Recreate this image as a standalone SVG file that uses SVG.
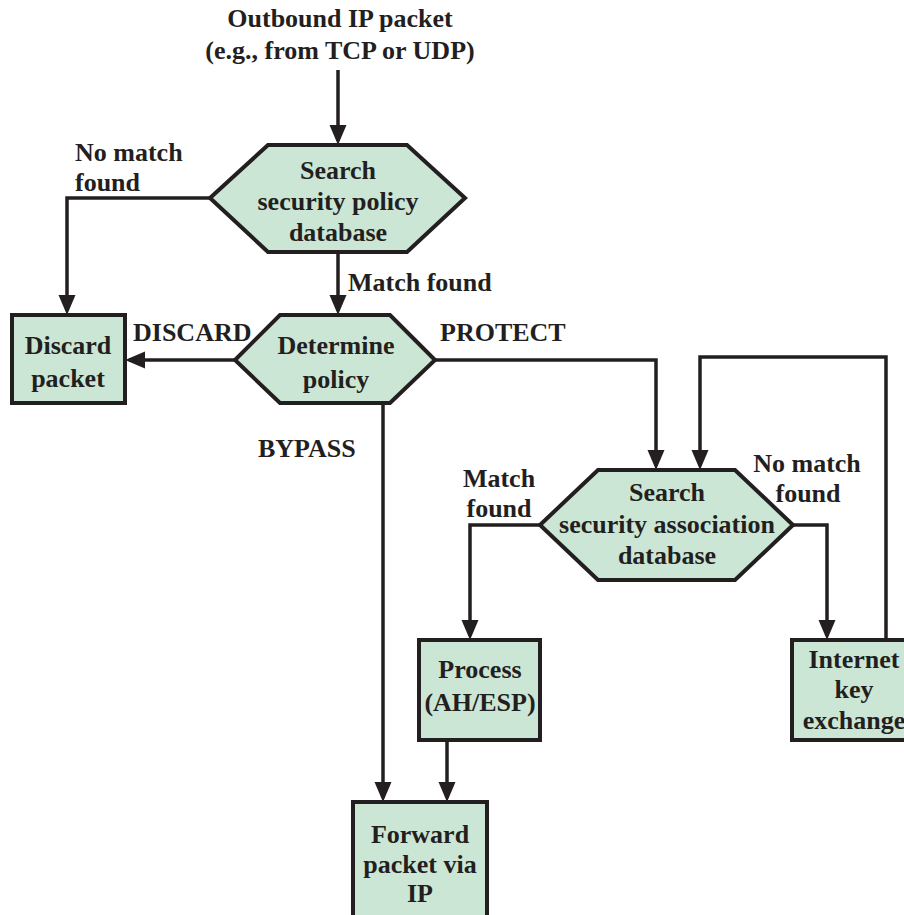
<svg xmlns="http://www.w3.org/2000/svg" width="904" height="915" viewBox="0 0 904 915">
<style>
.node{fill:#cce6d5;stroke:#231f20;stroke-width:4;stroke-linejoin:miter}
.t{font-family:"Liberation Serif","Times New Roman",serif;font-weight:bold;font-size:26px;fill:#231f20}
.c{text-anchor:middle}
.conn{fill:none;stroke:#231f20;stroke-width:3.5;marker-end:url(#ah)}
</style>
<defs>
<marker id="ah" markerUnits="userSpaceOnUse" markerWidth="20" markerHeight="20" viewBox="0 0 20 20" refX="16" refY="10" orient="auto">
<path d="M0,1.5 L20,10 L0,18.5 z" fill="#231f20"/>
</marker>
</defs>
<rect width="904" height="915" fill="#ffffff"/>
<g id="connectors">
<path class="conn" d="M338,70 V141"/>
<path class="conn" d="M210,198 H67 V311"/>
<path class="conn" d="M338,252 V311"/>
<path class="conn" d="M235,360 H129"/>
<path class="conn" d="M435,360 H656 V466"/>
<path class="conn" d="M383,403 V798"/>
<path class="conn" d="M886,640 V357 H700 V466"/>
<path class="conn" d="M540,525 H470 V636"/>
<path class="conn" d="M793,525 H827 V636"/>
<path class="conn" d="M447,740 V798"/>
</g>
<g id="labels">
<text class="t c" x="340" y="27">Outbound IP packet</text>
<text class="t c" x="340" y="59">(e.g., from TCP or UDP)</text>
<text class="t" x="75" y="161">No match</text>
<text class="t" x="75" y="191">found</text>
<text class="t" x="348" y="291">Match found</text>
<text class="t" x="133" y="341">DISCARD</text>
<text class="t" x="440" y="341">PROTECT</text>
<text class="t" x="258" y="457">BYPASS</text>
<text class="t c" x="499" y="487">Match</text>
<text class="t c" x="499" y="517">found</text>
<text class="t c" x="807" y="472">No match</text>
<text class="t c" x="808" y="502">found</text>
</g>
<g id="spd">
<polygon class="node" points="210,198 268,145 407,145 465,198 407,252 268,252"/>
<text class="t c" x="338" y="179">Search</text>
<text class="t c" x="338" y="210">security policy</text>
<text class="t c" x="338" y="241">database</text>
</g>
<g id="discard">
<rect class="node" x="12" y="315" width="113" height="88"/>
<text class="t c" x="68" y="354">Discard</text>
<text class="t c" x="68" y="387">packet</text>
</g>
<g id="determine">
<polygon class="node" points="235,360 280,315 390,315 435,360 390,403 280,403"/>
<text class="t c" x="336" y="354">Determine</text>
<text class="t c" x="336" y="388">policy</text>
</g>
<g id="sad">
<polygon class="node" points="540,525 598,470 735,470 793,525 735,580 598,580"/>
<text class="t c" x="667" y="501">Search</text>
<text class="t c" x="667" y="533">security association</text>
<text class="t c" x="667" y="564">database</text>
</g>
<g id="process">
<rect class="node" x="419" y="640" width="121" height="100"/>
<text class="t c" x="480" y="678">Process</text>
<text class="t c" x="480" y="711">(AH/ESP)</text>
</g>
<g id="ike">
<rect class="node" x="792" y="640" width="130" height="100"/>
<text class="t c" x="854" y="668">Internet</text>
<text class="t c" x="854" y="698">key</text>
<text class="t c" x="854" y="729">exchange</text>
</g>
<g id="forward">
<rect class="node" x="353" y="802" width="134" height="130"/>
<text class="t c" x="420" y="843">Forward</text>
<text class="t c" x="420" y="873">packet via</text>
<text class="t c" x="420" y="902">IP</text>
</g>
</svg>
